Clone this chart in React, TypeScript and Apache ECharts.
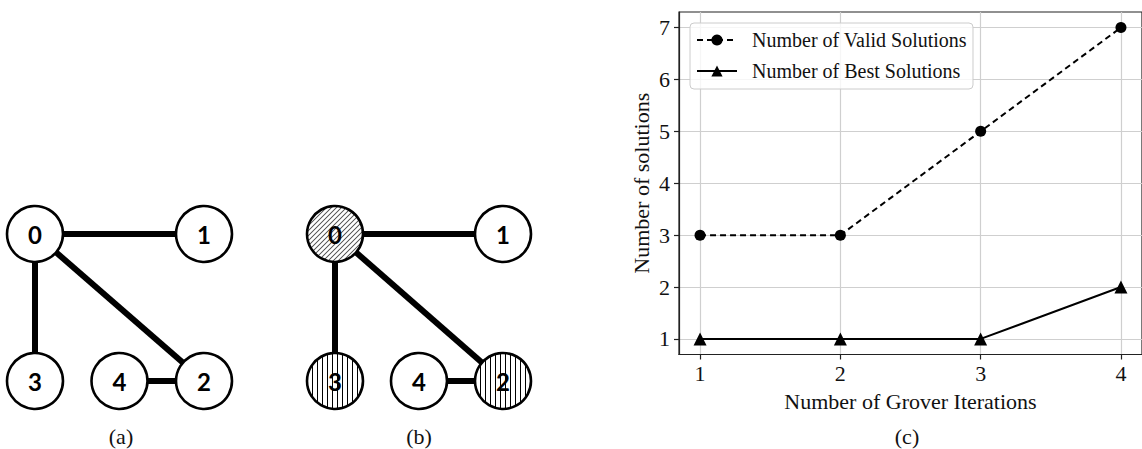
import React, { useEffect, useRef } from "react";
import * as echarts from "echarts";

// ---- Data ----
const nodeNames = ["0", "1", "2", "3", "4"];
const nodeX = [0, 2, 2, 0, 1];
const nodeY = [1, 1, 0, 0, 0];
const edges: [string, string][] = [
  ["0", "1"],
  ["0", "3"],
  ["0", "2"],
  ["4", "2"],
];
// hatch of each node in panel (b)
const solutionHatch = ["diag", "none", "vert", "vert", "none"];

const iterations = [1, 2, 3, 4];
const validSolutions = [3, 3, 5, 7];
const bestSolutions = [1, 1, 1, 2];
const xTicks = [1, 2, 3, 4];
const yTicks = [1, 2, 3, 4, 5, 6, 7];

const SERIF = "'Liberation Serif', 'Times New Roman', serif";
const SANS_BOLD = "Lato, 'Open Sans', sans-serif";
const NODE_SIZE = 56;

function makeHatch(kind: string): HTMLCanvasElement {
  const k = 4; // supersampling
  const s = 5 * k;
  const c = document.createElement("canvas");
  c.width = s;
  c.height = s;
  const ctx = c.getContext("2d")!;
  ctx.fillStyle = "#fff";
  ctx.fillRect(0, 0, s, s);
  if (kind === "vert") {
    ctx.fillStyle = "#000";
    ctx.fillRect(2 * k, 0, 1 * k, s);
  } else {
    ctx.strokeStyle = "#444";
    ctx.lineWidth = 0.9 * k;
    ctx.beginPath();
    ctx.moveTo(-k, s + k);
    ctx.lineTo(s + k, -k);
    ctx.moveTo(-k, k);
    ctx.lineTo(k, -k);
    ctx.moveTo(s - k, s + k);
    ctx.lineTo(s + k, s - k);
    ctx.stroke();
  }
  return c;
}

function graphSeries(gridIdx: number, hatch: string[] | null) {
  const patterns: Record<string, any> = {};
  // symbol paths are drawn in a 2x2 box and scaled by size/2
  const sc = 2 / NODE_SIZE / 4;
  if (hatch) {
    patterns.diag = { image: makeHatch("diag"), repeat: "repeat", scaleX: sc, scaleY: sc };
    patterns.vert = { image: makeHatch("vert"), repeat: "repeat", scaleX: sc, scaleY: sc };
  }
  return {
    type: "graph",
    coordinateSystem: "cartesian2d",
    xAxisIndex: gridIdx,
    yAxisIndex: gridIdx,
    symbol: "circle",
    symbolSize: NODE_SIZE,
    silent: true,
    emphasis: { disabled: true },
    data: nodeNames.map((n, i) => {
      const item: any = { name: n, value: [nodeX[i], nodeY[i]] };
      if (hatch && patterns[hatch[i]]) item.itemStyle = { color: patterns[hatch[i]] };
      return item;
    }),
    links: edges.map(([s, t]) => ({ source: s, target: t })),
    itemStyle: { color: "#fff", borderColor: "#000", borderWidth: 2.6 },
    lineStyle: { color: "#000", width: 6, opacity: 1, curveness: 0 },
    label: {
      show: true,
      position: "inside",
      formatter: "{b}",
      color: "#000",
      fontFamily: SANS_BOLD,
      fontWeight: "bold",
      fontSize: 24,
    },
  };
}

function hiddenAxis(gridIndex: number, min: number, max: number) {
  return { type: "value", gridIndex, min, max, show: false };
}

function panelLabel(text: string, x: number) {
  return {
    type: "text",
    x,
    y: 436,
    style: {
      text,
      fontFamily: SERIF,
      fontSize: 22,
      fill: "#111",
      align: "center",
      verticalAlign: "middle",
    },
  };
}

export default function App() {
  const ref = useRef<HTMLDivElement>(null);
  useEffect(() => {
    document.body.style.margin = "0";
    const chart = echarts.init(ref.current!, null, { renderer: "svg" });
    const axisColor = "#222";
    chart.setOption({
      animation: false,
      backgroundColor: "#fff",
      grid: [
        {
          left: 679,
          top: 12,
          width: 468,
          height: 342.5,
          show: true,
          borderColor: axisColor,
          borderWidth: 1.2,
        },
        { left: 35, top: 234, width: 169, height: 147 },
        { left: 335, top: 234, width: 168, height: 147 },
      ],
      xAxis: [
        {
          type: "value",
          gridIndex: 0,
          min: 0.85,
          max: 4.15,
          axisLine: { show: true, onZero: false, lineStyle: { color: axisColor, width: 1.2 } },
          axisTick: {
            show: true,
            customValues: xTicks,
            length: 5,
            lineStyle: { color: axisColor, width: 1.2 },
          },
          axisLabel: {
            customValues: xTicks,
            fontFamily: SERIF,
            fontSize: 22,
            color: "#111",
            margin: 8,
          },
          splitLine: { show: true, lineStyle: { color: "#cfcfcf", width: 1.2 } },
          name: "Number of Grover Iterations",
          nameLocation: "middle",
          nameGap: 36,
          nameTextStyle: { fontFamily: SERIF, fontSize: 22, color: "#111" },
        },
        hiddenAxis(1, 0, 2),
        hiddenAxis(2, 0, 2),
      ],
      yAxis: [
        {
          type: "value",
          gridIndex: 0,
          min: 0.7,
          max: 7.3,
          axisLine: { show: true, onZero: false, lineStyle: { color: axisColor, width: 1.2 } },
          axisTick: {
            show: true,
            customValues: yTicks,
            length: 5,
            lineStyle: { color: axisColor, width: 1.2 },
          },
          axisLabel: {
            customValues: yTicks,
            fontFamily: SERIF,
            fontSize: 22,
            color: "#111",
            margin: 9,
          },
          splitLine: { show: true, lineStyle: { color: "#cfcfcf", width: 1.2 } },
          name: "Number of solutions",
          nameLocation: "middle",
          nameGap: 27,
          nameTextStyle: { fontFamily: SERIF, fontSize: 22, color: "#111" },
        },
        hiddenAxis(1, 0, 1),
        hiddenAxis(2, 0, 1),
      ],
      legend: {
        data: ["Number of Valid Solutions", "Number of Best Solutions"],
        orient: "vertical",
        left: 690,
        top: 23,
        itemWidth: 40,
        itemHeight: 14,
        itemGap: 11,
        padding: [7, 6, 8, 6],
        borderColor: "#cccccc",
        borderWidth: 1,
        borderRadius: 4,
        backgroundColor: "rgba(255,255,255,0.8)",
        selectedMode: false,
        textStyle: {
          fontFamily: SERIF,
          fontSize: 20,
          lineHeight: 20,
          color: "#111",
          padding: [0, 0, 0, 10],
        },
      },
      graphic: [panelLabel("(a)", 121), panelLabel("(b)", 419), panelLabel("(c)", 907)],
      series: [
        {
          name: "Number of Valid Solutions",
          type: "line",
          xAxisIndex: 0,
          yAxisIndex: 0,
          data: iterations.map((x, i) => [x, validSolutions[i]]),
          symbol: "circle",
          symbolSize: 11,
          lineStyle: { color: "#000", width: 2, type: [6, 4] },
          itemStyle: { color: "#000" },
          silent: true,
        },
        {
          name: "Number of Best Solutions",
          type: "line",
          xAxisIndex: 0,
          yAxisIndex: 0,
          data: iterations.map((x, i) => [x, bestSolutions[i]]),
          symbol: "triangle",
          symbolSize: 13,
          lineStyle: { color: "#000", width: 2 },
          itemStyle: { color: "#000" },
          silent: true,
        },
        graphSeries(1, null),
        graphSeries(2, solutionHatch),
      ],
    });
    return () => chart.dispose();
  }, []);
  return <div ref={ref} style={{ width: 1142, height: 449 }} />;
}
